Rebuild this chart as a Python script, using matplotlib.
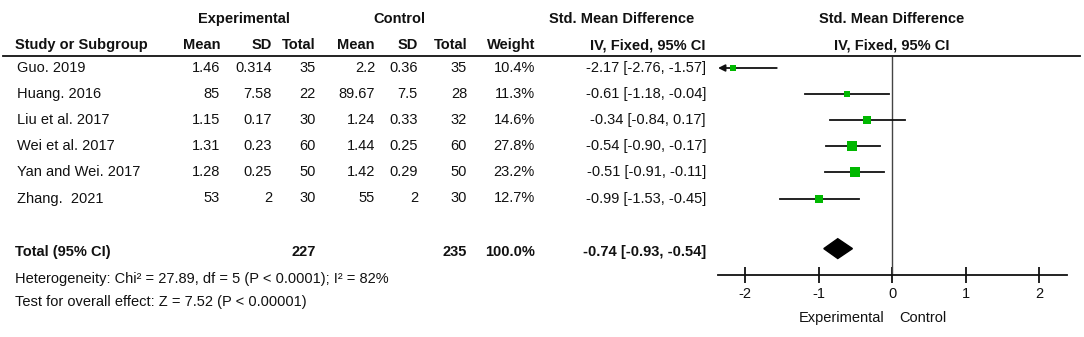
import matplotlib
matplotlib.use("Agg")
import matplotlib.pyplot as plt
import matplotlib.transforms as mtransforms

plt.rcParams['font.family'] = ['Liberation Sans Narrow', 'Liberation Sans', 'DejaVu Sans']

studies = ["Guo. 2019", "Huang. 2016", "Liu et al. 2017", "Wei et al. 2017", "Yan and Wei. 2017", "Zhang.  2021"]
exp_mean = ["1.46", "85", "1.15", "1.31", "1.28", "53"]
exp_sd = ["0.314", "7.58", "0.17", "0.23", "0.25", "2"]
exp_n = [35, 22, 30, 60, 50, 30]
ctl_mean = ["2.2", "89.67", "1.24", "1.44", "1.42", "55"]
ctl_sd = ["0.36", "7.5", "0.33", "0.25", "0.29", "2"]
ctl_n = [35, 28, 32, 60, 50, 30]
weight = [10.4, 11.3, 14.6, 27.8, 23.2, 12.7]
smd = [-2.17, -0.61, -0.34, -0.54, -0.51, -0.99]
ci_lo = [-2.76, -1.18, -0.84, -0.90, -0.91, -1.53]
ci_hi = [-1.57, -0.04, 0.17, -0.17, -0.11, -0.45]
total_smd, total_lo, total_hi = -0.74, -0.93, -0.54
ticks = [-2, -1, 0, 1, 2]

W, H = 1084, 337
fig = plt.figure(figsize=(W / 100, H / 100), dpi=100)

# text layer in pixel coordinates
tx = fig.add_axes([0, 0, 1, 1])
tx.set_xlim(0, W)
tx.set_ylim(H, 0)
tx.axis('off')

def row_y(i):
    return 68 + 26.1 * i

col = '#111111'
fs = 10.5
kw = dict(fontsize=fs, color=col, va='center')
bkw = dict(kw, fontweight='bold')

# group headers
tx.text(244, 19, "Experimental", ha='center', **bkw)
tx.text(399, 19, "Control", ha='center', **bkw)
tx.text(622, 19, "Std. Mean Difference", ha='center', **bkw)
tx.text(892, 19, "Std. Mean Difference", ha='center', **bkw)

# column headers
cols_x = [220, 272, 316, 375, 418, 467, 535, 706]
tx.text(15, 45, "Study or Subgroup", ha='left', **bkw)
for x, lab in zip(cols_x, ["Mean", "SD", "Total", "Mean", "SD", "Total", "Weight", "IV, Fixed, 95% CI"]):
    tx.text(x, 45, lab, ha='right', **bkw)
tx.text(892, 45, "IV, Fixed, 95% CI", ha='center', **bkw)
tx.plot([3, 1080], [56, 56], color=col, lw=1.3)

for i, name in enumerate(studies):
    y = row_y(i)
    tx.text(17, y, name, ha='left', **kw)
    vals = [exp_mean[i], exp_sd[i], str(exp_n[i]), ctl_mean[i], ctl_sd[i], str(ctl_n[i]),
            f"{weight[i]:.1f}%", f"{smd[i]:.2f} [{ci_lo[i]:.2f}, {ci_hi[i]:.2f}]"]
    for x, v in zip(cols_x, vals):
        tx.text(x, y, v, ha='right', **kw)

yt = 252
tx.text(15, yt, "Total (95% CI)", ha='left', **bkw)
tx.text(cols_x[2], yt, str(sum(exp_n)), ha='right', **bkw)
tx.text(cols_x[5], yt, str(sum(ctl_n)), ha='right', **bkw)
tx.text(cols_x[6], yt, f"{sum(weight):.1f}%", ha='right', **bkw)
tx.text(cols_x[7], yt, f"{total_smd:.2f} [{total_lo:.2f}, {total_hi:.2f}]", ha='right', **bkw)
tx.text(15, 279, "Heterogeneity: Chi² = 27.89, df = 5 (P < 0.0001); I² = 82%", ha='left', **kw)
tx.text(15, 302, "Test for overall effect: Z = 7.52 (P < 0.00001)", ha='left', **kw)

# forest plot
x0, x1 = 718, 1067
ytop, ybot = 57, 275
ax = fig.add_axes([x0 / W, 1 - ybot / H, (x1 - x0) / W, (ybot - ytop) / H])
ax.patch.set_alpha(0)
xmin, xmax = -2.37, 2.38
ax.set_xlim(xmin, xmax)
ax.set_ylim((ybot - 68) / 26.1, (ytop - 68) / 26.1)
for s in ['top', 'right', 'left']:
    ax.spines[s].set_visible(False)
ax.spines['bottom'].set_linewidth(1.3)
ax.spines['bottom'].set_color(col)
ax.set_yticks([])
ax.set_xticks(ticks)
ax.set_xticklabels([str(t) for t in ticks])
ax.tick_params(axis='x', direction='inout', length=11, width=1.3, colors=col, labelsize=fs, pad=3)
ax.axvline(0, color='#444444', lw=1.0)

green = '#00b800'
for i in range(len(smd)):
    lo = max(ci_lo[i], xmin)
    if ci_lo[i] < xmin:
        ax.annotate('', xy=(xmin, i), xytext=(ci_hi[i], i),
                    arrowprops=dict(arrowstyle='-|>', color=col, lw=1.3,
                                    mutation_scale=10, shrinkA=0, shrinkB=0))
    else:
        ax.plot([lo, ci_hi[i]], [i, i], color=col, lw=1.3, zorder=2)
    ax.scatter([smd[i]], [i], marker='s', s=weight[i] * 2.1, color=green, zorder=3, linewidths=0)

ax.fill([total_lo, total_smd, total_hi, total_smd], [6.92, 6.92 - 0.38, 6.92, 6.92 + 0.38],
        color='black', zorder=3)

trans = mtransforms.blended_transform_factory(ax.transData, tx.transData)
tx.text(-0.1, 318, "Experimental", ha='right', transform=trans, **kw)
tx.text(0.1, 318, "Control", ha='left', transform=trans, **kw)

fig.savefig("out.png", dpi=100)
